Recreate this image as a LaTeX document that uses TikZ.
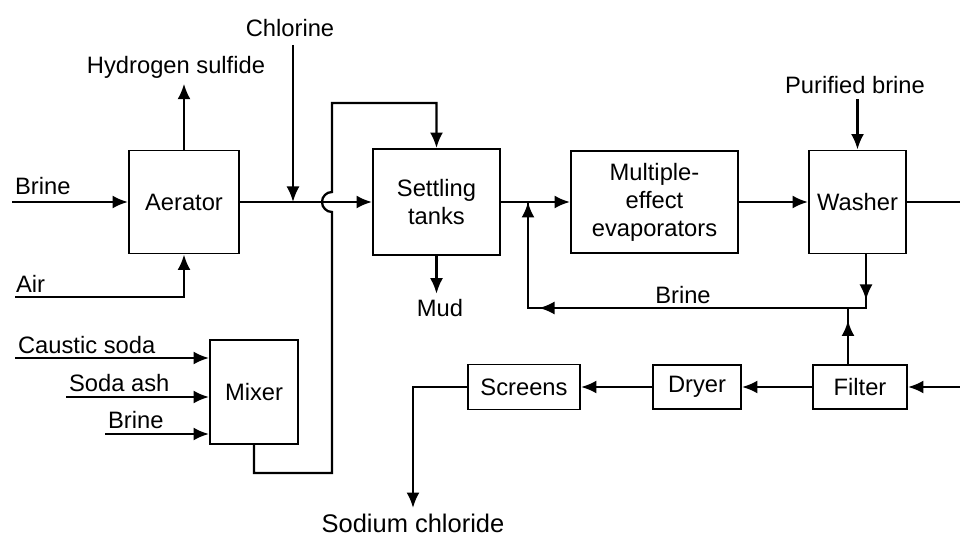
\documentclass[tikz,border=0pt]{standalone}
\usepackage{fontspec}
\setmainfont{Liberation Sans}
\usetikzlibrary{arrows.meta,positioning,calc}

\begin{document}
\begin{tikzpicture}[>=Latex,
  unit/.style={draw=black,line width=1.1pt,align=center,inner sep=0pt,font=\fontsize{13.5}{16}\selectfont},
  tag/.style={inner sep=1pt,font=\fontsize{13.5}{16}\selectfont},
  pipe/.style={line width=1.3pt},
  flow/.style={line width=1.3pt,-{Latex[length=3.1mm,width=2.6mm]}}]
\fill[white] (0,0) rectangle (19.2,-10.72);
\useasboundingbox (0,0) rectangle (19.2,-10.72);
% process units
\node[unit,minimum width=2.2cm,minimum height=2.06cm] (aerator) at (3.68,-4.04) {Aerator};
\node[unit,minimum width=2.54cm,minimum height=2.12cm] (settling) at (8.73,-4.04) {Settling\\tanks};
\node[unit,minimum width=3.34cm,minimum height=2.04cm] (multi) at (13.09,-4.04) {Multiple-\\effect\\evaporators};
\node[unit,minimum width=1.94cm,minimum height=2.06cm] (washer) at (17.15,-4.04) {Washer};
\node[unit,minimum width=1.76cm,minimum height=2.08cm] (mixer) at (5.08,-7.84) {Mixer};
\node[unit,minimum width=1.88cm,minimum height=0.88cm] (filter) at (17.2,-7.74) {Filter};
\node[unit,minimum width=1.76cm,minimum height=0.88cm] (dryer) at (13.94,-7.74) {Dryer};
\node[unit,minimum width=2.24cm,minimum height=0.9cm] (screens) at (10.48,-7.74) {Screens};
% stream labels
\node[tag] (h2s) at (3.52,-1.34) {Hydrogen sulfide};
\node[tag] (chlorine) at (5.8,-0.56) {Chlorine};
\node[tag,anchor=west] (brinein) at (0.26,-3.72) {Brine};
\node[tag,anchor=west] (air) at (0.28,-5.68) {Air};
\node[tag,anchor=west] (caustic) at (0.32,-6.9) {Caustic soda};
\node[tag,anchor=west] (sodaash) at (1.34,-7.66) {Soda ash};
\node[tag,anchor=west] (brinemix) at (2.12,-8.4) {Brine};
\node[tag] (mud) at (8.8,-6.16) {Mud};
\node[tag] (brinerec) at (13.66,-5.9) {Brine};
\node[tag] (purified) at (17.1,-1.7) {Purified brine};
\node[tag,font=\fontsize{14.5}{16}\selectfont] (nacl) at (8.26,-10.46) {Sodium chloride};
% free ends and bends
\coordinate (brinestart) at (0.24,-4.04);
\coordinate (airstart) at (0.3,-5.94);
\coordinate (clstart) at (5.86,-0.9);
\coordinate (cstart) at (0.3,-7.16);
\coordinate (sstart) at (1.32,-7.94);
\coordinate (bstart) at (2.1,-8.68);
\coordinate (hop) at (6.64,-4.04);
\coordinate (mixbend) at (6.64,-9.46);
\coordinate (topbend) at (6.64,-2.06);
\coordinate (brow) at (0,-6.16);
\coordinate (rcorner) at (10.56,-6.16);
\coordinate (wdrop) at ([xshift=1.7mm]washer.south);
\coordinate (wcorner) at (wdrop |- brow);
\coordinate (fup) at ([xshift=-2.4mm]filter.north);
\coordinate (fjoin) at (fup |- brow);
\coordinate (wout) at (19.2,-4.04);
\coordinate (fin) at (19.2,-7.74);
% connectors
\draw[flow] (brinestart) -- (aerator.west);
\draw[flow,shorten >=2pt] (aerator.north) -- (aerator.north |- h2s.south);
\draw[flow] (airstart) -| (aerator.south);
\draw[flow] (clstart) -- (clstart |- aerator.east);
\draw[flow] (aerator.east) -- (settling.west);
\draw[flow] (cstart) -- (cstart -| mixer.west);
\draw[flow] (sstart) -- (sstart -| mixer.west);
\draw[flow] (bstart) -- (bstart -| mixer.west);
\draw[flow] (mixer.south) |- (mixbend) -- ([yshift=-2mm]hop) arc[start angle=-90,end angle=-270,radius=2mm] -- (topbend) -| (settling.north);
\draw[flow,shorten >=2pt] (settling.south) -- (settling.south |- mud.north);
\draw[flow] (settling.east) -- (multi.west);
\draw[flow] (multi.east) -- (washer.west);
\draw[flow,shorten <=2pt] (washer.north |- purified.south) -- (washer.north);
\draw[pipe] (washer.east) -- (wout);
\draw[pipe] (wdrop) -- (wcorner) -- (rcorner) -- (rcorner |- settling.east);
\draw[flow] (wdrop) -- ([yshift=1.6mm]wcorner);
\draw[flow] (wcorner) -- ([xshift=2.2mm]rcorner);
\draw[flow] (rcorner) -- (rcorner |- settling.east);
\draw[pipe] (fup) -- (fjoin);
\draw[flow] (fup) -- ($(fjoin)+(0,-0.25)$);
\draw[flow] (fin) -- (filter.east);
\draw[flow] (filter.west) -- (dryer.east);
\draw[flow] (dryer.west) -- (screens.east);
\draw[flow,shorten >=2pt] (screens.west) -| (nacl.north);
\end{tikzpicture}
\end{document}
